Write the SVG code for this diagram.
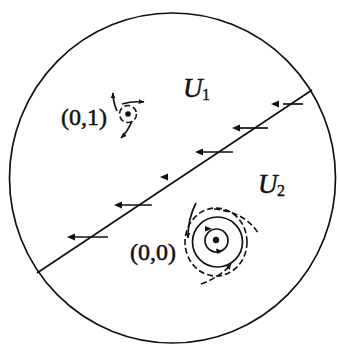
<svg xmlns="http://www.w3.org/2000/svg" width="338" height="345" viewBox="0 0 338 345">
<defs>
<marker id="ah" viewBox="0 0 10 10" refX="9" refY="5" markerWidth="6" markerHeight="6" orient="auto" markerUnits="userSpaceOnUse"><path d="M0,1 L10,5 L0,9 Z" fill="#111"/></marker>
</defs>
<style>
.ln{fill:none;stroke:#111;stroke-width:1.7}
.ds{fill:none;stroke:#111;stroke-width:1.6;stroke-dasharray:6 3}
.hd{fill:#111}
.lbl{font-family:"Liberation Serif",serif;font-size:24px;fill:#111;stroke:#111;stroke-width:0.5}
.u{font-family:"Liberation Serif",serif;font-style:italic;font-size:27px;fill:#111;stroke:#111;stroke-width:0.5}
.sub{font-family:"Liberation Serif",serif;font-size:16px;fill:#111;stroke:#111;stroke-width:0.4}
</style>
<rect width="338" height="345" fill="#fff"/>
<g id="boundary"><ellipse class="ln" cx="172.5" cy="178" rx="163" ry="165"/></g>
<g id="connectors">
<line class="ln" x1="37" y1="273" x2="312" y2="90"/>
<line class="ln" x1="283" y1="104" x2="303" y2="104"/><path class="hd" d="M271,104 L279,100.5 L279,107.5 Z"/>
<line class="ln" x1="238" y1="128" x2="268" y2="128"/><path class="hd" d="M232,128 L240,124.5 L240,131.5 Z"/>
<line class="ln" x1="200" y1="152" x2="233" y2="152"/><path class="hd" d="M195,152 L203,148.5 L203,155.5 Z"/>
<path class="hd" d="M160,177 L168,173.5 L168,180.5 Z"/>
<line class="ln" x1="119" y1="205" x2="152" y2="205"/><path class="hd" d="M114,205 L122,201.5 L122,208.5 Z"/>
<line class="ln" x1="72" y1="237" x2="108" y2="237"/><path class="hd" d="M67,237 L75,233.5 L75,240.5 Z"/>
</g>
<g id="p01">
<circle cx="128" cy="114" r="2.8" fill="#111"/>
<circle class="ds" cx="128" cy="114" r="8.5" stroke-dasharray="4 2.5"/>
<path class="ln" d="M117,111 Q113,102 113,93" marker-end="url(#ah)"/>
<path class="ln" d="M122,104 Q132,101 144,102" marker-end="url(#ah)"/>
<path class="ln" d="M132,121 Q128,131 121,138" marker-end="url(#ah)"/>
<text class="lbl" x="61" y="125">(0,1)</text>
</g>
<g id="p00">
<circle cx="216" cy="240" r="3.2" fill="#111"/>
<circle class="ln" cx="216.5" cy="240.5" r="11.5"/>
<path class="hd" d="M212,228.8 L205,226 L205,231.6 Z"/>
<path class="hd" d="M223,251 L216,248.5 L217,254 Z"/>
<circle class="ln" cx="217.5" cy="242" r="25"/>
<ellipse class="ds" cx="216" cy="242" rx="31" ry="34"/>
<path class="ln" d="M196,203 Q188,218 188,238" marker-end="url(#ah)"/>
<path class="ds" d="M214,209 Q245,212 258,233"/>
<path class="ds" d="M201,284 Q222,276 231,264" marker-end="url(#ah)"/>
<text class="lbl" x="130" y="260">(0,0)</text>
</g>
<g id="u1"><text class="u" x="183" y="97">U</text><text class="sub" x="202" y="100">1</text></g>
<g id="u2"><text class="u" x="258" y="193">U</text><text class="sub" x="277" y="196">2</text></g>
</svg>
